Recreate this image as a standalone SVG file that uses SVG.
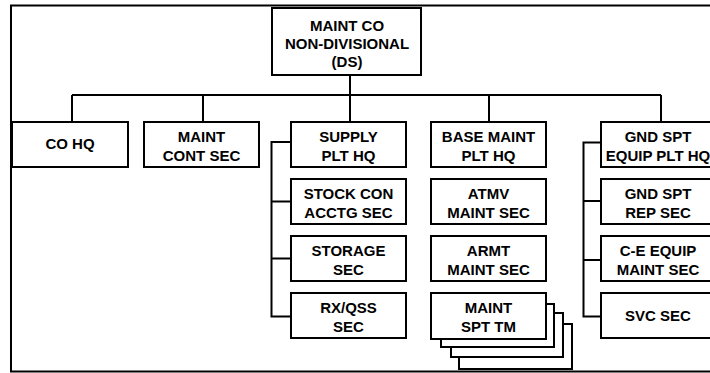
<svg xmlns="http://www.w3.org/2000/svg" width="710" height="373" viewBox="0 0 710 373">
<style>
.b{fill:#fff;stroke:#000;stroke-width:2}
.c{fill:none;stroke:#000;stroke-width:2}
text{font-family:"Liberation Sans",Arial,sans-serif;font-weight:bold;font-size:15px;text-anchor:middle;fill:#000}
</style>
<rect x="11" y="5.5" width="730" height="366" fill="#fff" stroke="#000" stroke-width="2"/>
<g id="connectors">
<path class="c" d="M350 75V95M72 95H661M72 95V122M203 95V122M350 95V122M489 95V122M661 95V122"/>
<path class="c" d="M291 142H271.5V316.5H291M271.5 201.5H291M271.5 258.5H291"/>
<path class="c" d="M601 142.5H583.5V316.5H601M583.5 201H601M583.5 260H601"/>
</g>
<g id="top"><rect class="b" x="272" y="8" width="149" height="67"/><text x="347" y="30.5">MAINT CO</text><text x="347" y="48.5">NON-DIVISIONAL</text><text x="347" y="67">(DS)</text></g>
<g id="cohq"><rect class="b" x="12" y="122" width="116" height="45"/><text x="70" y="149">CO HQ</text></g>
<g id="maintcont"><rect class="b" x="144" y="122" width="115" height="45"/><text x="201.5" y="141.5">MAINT</text><text x="201.5" y="160.5">CONT SEC</text></g>
<g id="supply"><rect class="b" x="291" y="122" width="115" height="45"/><text x="348.5" y="141.5">SUPPLY</text><text x="348.5" y="160.5">PLT HQ</text></g>
<g id="stock"><rect class="b" x="291" y="179" width="115" height="45"/><text x="348.5" y="198.5">STOCK CON</text><text x="348.5" y="217.5">ACCTG SEC</text></g>
<g id="storage"><rect class="b" x="291" y="236" width="115" height="45"/><text x="348.5" y="255.5">STORAGE</text><text x="348.5" y="274.5">SEC</text></g>
<g id="rxqss"><rect class="b" x="291" y="293" width="115" height="45"/><text x="348.5" y="312.5">RX/QSS</text><text x="348.5" y="331.5">SEC</text></g>
<g id="basemaint"><rect class="b" x="431" y="122" width="115" height="45"/><text x="488.5" y="141.5">BASE MAINT</text><text x="488.5" y="160.5">PLT HQ</text></g>
<g id="atmv"><rect class="b" x="431" y="179" width="115" height="45"/><text x="488.5" y="198.5">ATMV</text><text x="488.5" y="217.5">MAINT SEC</text></g>
<g id="armt"><rect class="b" x="431" y="236" width="115" height="45"/><text x="488.5" y="255.5">ARMT</text><text x="488.5" y="274.5">MAINT SEC</text></g>
<g id="maintspt">
<rect class="b" x="459" y="324" width="113" height="45"/>
<rect class="b" x="451" y="313" width="112" height="44"/>
<rect class="b" x="441" y="304" width="113" height="43"/>
<rect class="b" x="431" y="293" width="115" height="46"/>
<text x="488.5" y="312.5">MAINT</text><text x="488.5" y="331.5">SPT TM</text></g>
<g id="gndhq"><rect class="b" x="601" y="122" width="115" height="45"/><text x="658" y="141.5">GND SPT</text><text x="658" y="160.5">EQUIP PLT HQ</text></g>
<g id="gndrep"><rect class="b" x="601" y="179" width="115" height="45"/><text x="658" y="198.5">GND SPT</text><text x="658" y="217.5">REP SEC</text></g>
<g id="ce"><rect class="b" x="601" y="236" width="115" height="45"/><text x="658" y="255.5">C-E EQUIP</text><text x="658" y="274.5">MAINT SEC</text></g>
<g id="svc"><rect class="b" x="601" y="293" width="115" height="45"/><text x="658" y="321">SVC SEC</text></g>
</svg>
